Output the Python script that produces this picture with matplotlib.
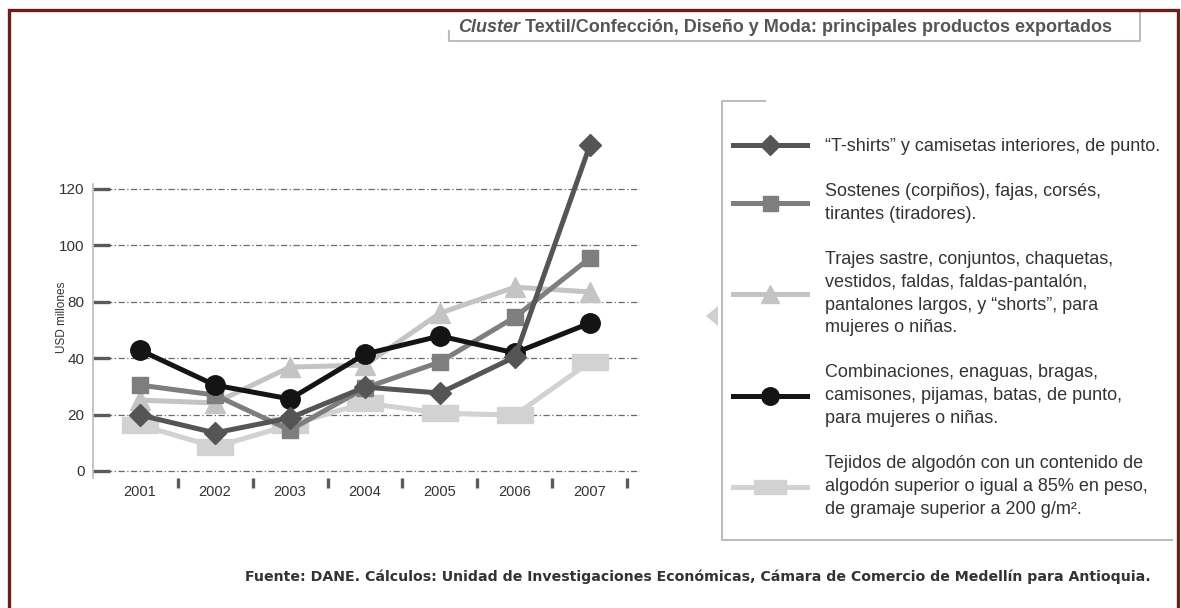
import matplotlib
matplotlib.use("Agg")
import matplotlib.pyplot as plt
from matplotlib.lines import Line2D
from matplotlib.patches import Polygon
from matplotlib.path import Path
import numpy as np

plt.rcParams['font.family'] = ['Liberation Sans', 'DejaVu Sans']

# ---- data ----
years = ["2001", "2002", "2003", "2004", "2005", "2006", "2007"]
tshirts = [19.8, 13.5, 18.8, 29.7, 27.6, 40.4, 115.4]
sostenes = [30.4, 26.9, 14.5, 29.4, 38.6, 54.5, 75.4]
trajes = [25.1, 24.1, 36.8, 37.5, 55.9, 65.1, 63.4]
combinaciones = [42.8, 30.4, 25.5, 41.4, 47.8, 41.8, 52.4]
tejidos = [16.3, 8.5, 16.3, 24.1, 20.5, 19.8, 38.6]

ytick_vals = [0, 20, 40, 60, 80, 100]
ytick_labels = ["0", "20", "40", "80", "100", "120"]

labels = [
    "\u201cT-shirts\u201d y camisetas interiores, de punto.",
    "Sostenes (corpiños), fajas, corsés,\ntirantes (tiradores).",
    "Trajes sastre, conjuntos, chaquetas,\nvestidos, faldas, faldas-pantalón,\npantalones largos, y \u201cshorts\u201d, para\nmujeres o niñas.",
    "Combinaciones, enaguas, bragas,\ncamisones, pijamas, batas, de punto,\npara mujeres o niñas.",
    "Tejidos de algodón con un contenido de\nalgodón superior o igual a 85% en peso,\nde gramaje superior a 200 g/m²."
]

title_italic = "Cluster"
title_rest = " Textil/Confección, Diseño y Moda: principales productos exportados"
footer = ("Fuente: DANE. Cálculos: Unidad de Investigaciones Económicas, "
          "Cámara de Comercio de Medellín para Antioquia.")
ylabel = "USD millones"

W, H = 1181, 608
fig = plt.figure(figsize=(W / 100, H / 100), dpi=100)
fig.patch.set_facecolor("white")

def fx(px):
    return px / W

def fy(py):
    return 1 - py / H

ax_left, ax_right, ax_top, ax_bottom = 93, 640, 140, 478
ax = fig.add_axes([fx(ax_left), fy(ax_bottom), fx(ax_right) - fx(ax_left),
                   fy(ax_top) - fy(ax_bottom)])
ax.set_facecolor("none")

x = np.arange(len(years))
rect = Path([(-1, -0.42), (1, -0.42), (1, 0.42), (-1, 0.42), (-1, -0.42)],
            [Path.MOVETO, Path.LINETO, Path.LINETO, Path.LINETO, Path.CLOSEPOLY])

lw = 3.6
l_tej, = ax.plot(x, tejidos, color="#d2d2d2", lw=lw, marker=rect, ms=26,
                 zorder=3, clip_on=False)
l_tra, = ax.plot(x, trajes, color="#c4c4c4", lw=lw, marker="^", ms=14,
                 zorder=4, clip_on=False)
l_sos, = ax.plot(x, sostenes, color="#7e7e7e", lw=lw, marker="s", ms=12,
                 zorder=5, clip_on=False)
l_com, = ax.plot(x, combinaciones, color="#141414", lw=lw, marker="o", ms=14,
                 zorder=6, clip_on=False)
l_tsh, = ax.plot(x, tshirts, color="#555555", lw=lw, marker="D", ms=11,
                 zorder=7, clip_on=False)

ax.set_xlim(-0.627, 6.667)
ax.set_ylim(-2.48, 117.2)

ax.set_yticks(ytick_vals)
ax.set_yticklabels(ytick_labels)
ax.set_xticks(x)
ax.set_xticklabels(years)
ax.set_xticks(x + 0.5, minor=True)

ax.tick_params(axis="y", direction="in", length=12, width=2.4, color="#5a5a5a",
               labelsize=11, labelcolor="#333333", pad=6)
ax.tick_params(axis="x", which="major", length=0, labelsize=10.5,
               labelcolor="#333333", pad=5)
ax.tick_params(axis="x", which="minor", direction="out", length=7, width=2.4,
               color="#5a5a5a")

ax.grid(axis="y", color="#6a6a6a", lw=0.9, linestyle=(0, (5, 2, 1, 2)))
ax.set_axisbelow(True)
for s in ["top", "right", "bottom"]:
    ax.spines[s].set_visible(False)
ax.spines["left"].set_color("#bbbbbb")
ax.spines["left"].set_linewidth(1.2)
ax.spines["left"].set_bounds(-2.48, 101.5)

fig.text(fx(62), fy(317), ylabel, rotation=90, ha="center", va="center",
         fontsize=8.5, color="#333333")

# legend
handles = [l_tsh, l_sos, l_tra, l_com, l_tej]
leg = fig.legend(handles, labels, loc="upper left",
                 bbox_to_anchor=(fx(733), fy(138)), frameon=False,
                 fontsize=13, handlelength=4.1, handletextpad=1.0,
                 labelspacing=1.55, borderpad=0, borderaxespad=0,
                 markerscale=0.9)
for t in leg.get_texts():
    t.set_color("#333333")
    t.set_linespacing(1.45)

gray = "#bdbdbd"
# legend bracket
fig.add_artist(Line2D([fx(765), fx(722), fx(722), fx(1172)],
                      [fy(101), fy(101), fy(540), fy(540)],
                      color=gray, lw=1.5))
fig.add_artist(Polygon([[fx(706), fy(316)], [fx(718), fy(306)], [fx(718), fy(326)]],
                       closed=True, color="#d0d0d0", lw=0))

# title box
fig.add_artist(Line2D([fx(449), fx(449), fx(1140), fx(1140)],
                      [fy(31), fy(41), fy(41), fy(12)], color=gray, lw=1.5))
t1 = fig.text(fx(458), fy(27), title_italic, ha="left", va="center",
              fontsize=13, color="#555555", style="italic", weight="bold")
fig.canvas.draw()
bb = t1.get_window_extent()
fig.text(bb.x1 / W, fy(27), title_rest, ha="left", va="center",
         fontsize=13, color="#555555", weight="bold")

# footer
fig.text(fx(245), fy(577), footer, ha="left", va="center", fontsize=10.2,
         color="#333333", weight="bold", family=["DejaVu Sans"])

# dark red frame
red = "#6a1f1f"
fig.add_artist(Line2D([fx(8.5), fx(8.5), fx(1178), fx(1178)],
                      [0, fy(9.5), fy(9.5), 0], color=red, lw=2.4,
                      solid_joinstyle="miter"))

fig.savefig("out.png", dpi=100)
